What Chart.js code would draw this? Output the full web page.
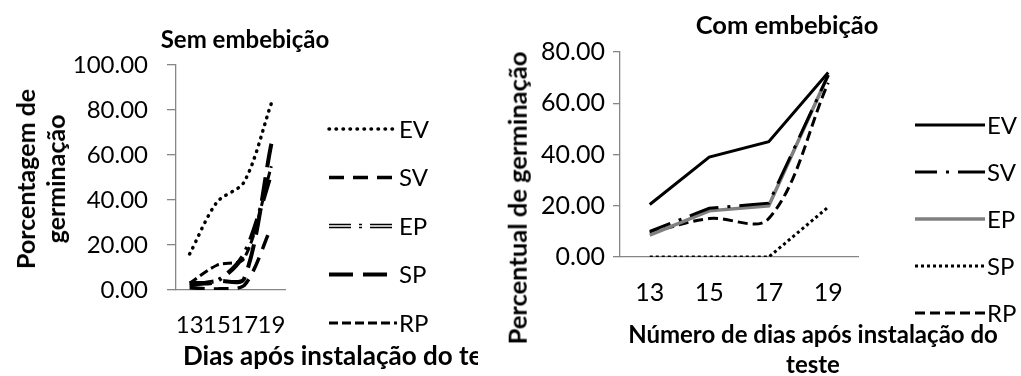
<!DOCTYPE html>
<html>
<head>
<meta charset="utf-8">
<script src="https://cdn.jsdelivr.net/npm/chart.js@4.4.0/dist/chart.umd.min.js"></script>
<style>
  body { margin: 0; background: #fff; width: 1021px; height: 376px; overflow: hidden; position: relative; font-family: Lato, sans-serif; }
  .panel { position: absolute; top: 0; height: 376px; overflow: hidden; }
  #left { left: 0; width: 478px; }
  #right { left: 480px; width: 541px; }
  .t { position: absolute; font-weight: bold; white-space: nowrap; color: #000; font-size: 23px; line-height: 1.2; transform: translate(-50%, -50%); text-align: center; }
  .rot { transform: translate(-50%, -50%) rotate(-90deg); }
</style>
</head>
<body>
<div id="left" class="panel">
  <canvas id="semChart" width="478" height="376"></canvas>
  <div class="t" style="left:245px;top:39px;font-size:24px">Sem embebição</div>
  <div class="t rot" style="left:40px;top:179px;line-height:1.2;font-size:25px">Porcentagem de<br>germinação</div>
  <div class="t" style="left:183px;top:356px;transform:translateY(-50%);font-size:26px">Dias após instalação do teste</div>
</div>
<div id="right" class="panel">
  <canvas id="comChart" width="541" height="376"></canvas>
  <div class="t" style="left:307px;top:24px;font-size:25.5px">Com embebição</div>
  <div class="t rot" style="left:37px;top:198px;font-size:25.5px">Percentual de germinação</div>
  <div class="t" style="left:333px;top:349px;line-height:30px;font-size:24px">Número de dias após instalação do<br>teste</div>
</div>

<script>
const DAYS = ["13", "15", "17", "19"]

// Sem embebição (% germinação)
const SEM_EV = [16, 39, 48, 83]
const SEM_SV = [1, 0.5, 2, 28]
const SEM_EP = [3, 4, 16, 52]
const SEM_SP = [2, 4, 5, 65]
const SEM_RP = [3, 11, 14, 55]

// Com embebição (% germinação)
const COM_EV = [20.5, 39, 45, 72]
const COM_SV = [10, 19, 21, 71]
const COM_EP = [8.5, 18, 20, 71]
const COM_SP = [0, 0, 0, 19.5]
const COM_RP = [9.5, 15, 15, 68]

const AXIS = "#868686"
const FONT = "Lato, sans-serif"

// draws the legend rows as dashed line samples + text
const legendLines = {
  id: "legendLines",
  afterDraw(chart, args, opts) {
    const ctx = chart.ctx
    ctx.save()
    chart.data.datasets.forEach(ds => {
      const y = opts.y0 + ds.row * opts.dy
      ctx.beginPath()
      ctx.setLineDash(ds.borderDash || [])
      ctx.lineCap = ds.borderCapStyle || "butt"
      ctx.lineWidth = ds.borderWidth
      ctx.strokeStyle = ds.borderColor
      ctx.moveTo(opts.x0, y)
      ctx.lineTo(opts.x0 + opts.len, y)
      ctx.stroke()
      if (ds.label) {
        ctx.setLineDash([])
        ctx.fillStyle = "#000"
        ctx.font = opts.size + "px " + FONT
        ctx.textBaseline = "middle"
        ctx.fillText(ds.label, opts.x0 + opts.len + 2, y + 1)
      }
    })
    ctx.restore()
  }
}

function line(label, data, row, style) {
  return Object.assign({
    label, data, row,
    borderColor: "#000",
    borderWidth: 3,
    fill: false,
    pointRadius: 0,
    tension: 0
  }, style)
}

function options(o) {
  return {
    responsive: false,
    animation: false,
    layout: { padding: { top: o.top, right: o.right, left: 0, bottom: 0 } },
    plugins: {
      legend: { display: false },
      tooltip: { enabled: false },
      legendLines: o.legend
    },
    scales: {
      x: {
        offset: true,
        grid: { drawOnChartArea: false, drawTicks: false },
        border: { color: AXIS, width: 1.3 },
        ticks: { autoSkip: false, maxRotation: 0, padding: o.xPad, color: "#000", font: { family: FONT, size: o.size } },
        afterFit: s => { s.height = o.xHeight }
      },
      y: {
        min: 0,
        max: o.max,
        grid: { drawOnChartArea: false, tickLength: o.tickLen, color: AXIS, lineWidth: 1.3 },
        border: { color: AXIS, width: 1.3 },
        ticks: { stepSize: 20, padding: o.yPad, color: "#000", font: { family: FONT, size: o.size }, callback: v => v.toFixed(2) },
        afterFit: s => { s.width = o.yWidth }
      }
    }
  }
}

new Chart(document.getElementById("semChart"), {
  type: "line",
  plugins: [legendLines],
  data: {
    labels: DAYS,
    datasets: [
      line("EV", SEM_EV, 0, { borderDash: [0.5, 6.5], borderCapStyle: "round", borderWidth: 3.5, tension: 0.3 }),
      line("SV", SEM_SV, 1, { borderDash: [15, 9], borderWidth: 3.5, tension: 0.3 }),
      line("EP", SEM_EP, 2, { borderDash: [22, 8, 3, 8], borderWidth: 4.5, tension: 0.3 }),
      line("", SEM_EP, 2, { borderDash: [22, 8, 3, 8], borderWidth: 1.3, borderColor: "#fff", tension: 0.3 }),
      line("SP", SEM_SP, 3, { borderDash: [24, 10], borderWidth: 4, tension: 0.3 }),
      line("RP", SEM_RP, 4, { borderDash: [9, 4], borderWidth: 3, tension: 0.3 })
    ]
  },
  options: options({ top: 65, right: 193, xHeight: 86, yWidth: 176, max: 100, size: 24, xPad: 21, yPad: 19, tickLen: 9,
    legend: { x0: 329, len: 68, y0: 129, dy: 48.5, size: 24 } })
})

new Chart(document.getElementById("comChart"), {
  type: "line",
  plugins: [legendLines],
  data: {
    labels: DAYS,
    datasets: [
      line("EV", COM_EV, 0, { borderWidth: 3 }),
      line("SV", COM_SV, 1, { borderDash: [22, 9, 3, 9, 8, 0], borderWidth: 3 }),
      line("EP", COM_EP, 2, { borderColor: "#808080", borderWidth: 3.5 }),
      line("SP", COM_SP, 3, { borderDash: [3, 3], borderWidth: 3 }),
      line("RP", COM_RP, 4, { borderDash: [10, 5], borderWidth: 3, tension: 0.35 })
    ]
  },
  options: options({ top: 52, right: 163, xHeight: 119, yWidth: 140, max: 80, size: 25, xPad: 21, yPad: 8, tickLen: 7,
    legend: { x0: 435, len: 70, y0: 125, dy: 47, size: 24 } })
})
</script>
</body>
</html>
